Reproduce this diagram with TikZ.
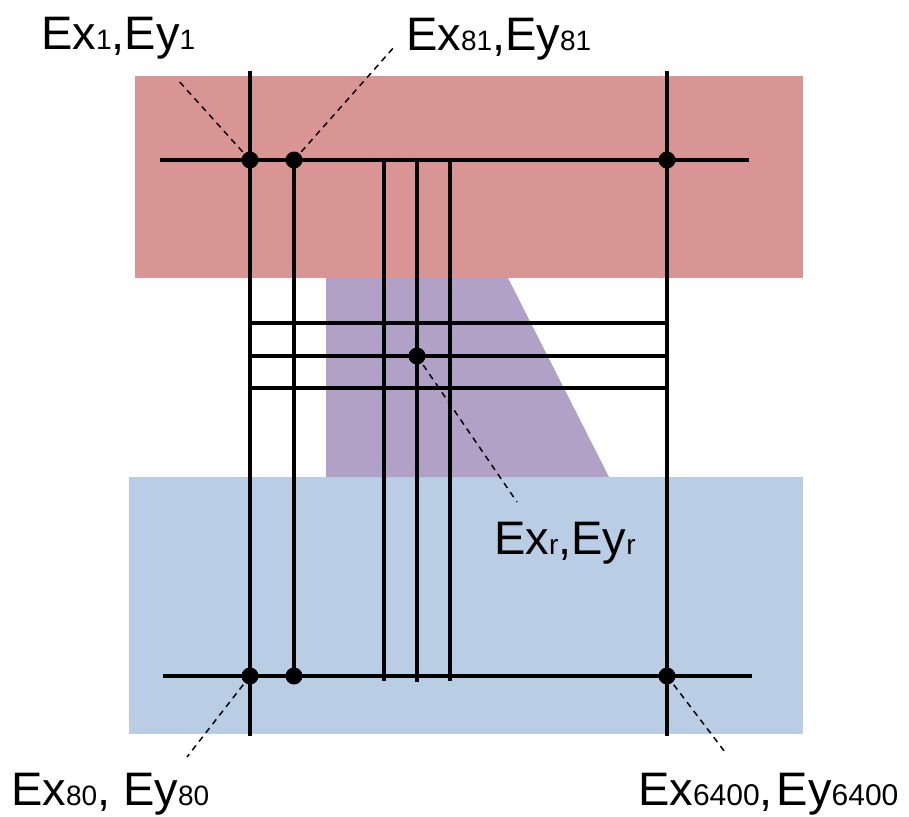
\documentclass[tikz,border=0pt]{standalone}
\usepackage{fontspec}
\setmainfont{Liberation Sans}
\definecolor{redband}{HTML}{D99594}
\definecolor{blueband}{HTML}{B9CDE5}
\definecolor{purpband}{HTML}{B2A1C7}
\newcommand{\bigtx}{\fontsize{47}{47}\selectfont}
\newcommand{\subtx}[1]{{\fontsize{28}{28}\selectfont #1}}
\newcommand{\subtxb}[1]{{\fontsize{30}{30}\selectfont #1}}
\begin{document}
\begin{tikzpicture}[x=1pt,y=-1pt,
  wire/.style={line width=3.8pt},
  dot/.style={circle,fill=black,inner sep=0pt,minimum size=17pt},
  leader/.style={line width=1.5pt,dash pattern=on 6pt off 5pt},
  lab/.style={anchor=base west,inner sep=0pt,font=\bigtx}]
\useasboundingbox (0,0) rectangle (909,816);
% bands
\fill[redband] (135,76) rectangle (803,278);
\fill[blueband] (129,477) rectangle (803,734);
\fill[purpband] (326,278) -- (508,278) -- (609,477) -- (326,477) -- cycle;
% coordinates
\coordinate (v1t) at (250,71);   \coordinate (v1b) at (250,736);
\coordinate (v6t) at (667,71);   \coordinate (v6b) at (667,736);
\coordinate (hTl) at (160,160);  \coordinate (hTr) at (749,160);
\coordinate (hBl) at (163,676);  \coordinate (hBr) at (752,676);
\coordinate (v3t) at (384,160);  \coordinate (v3b) at (384,681);
\coordinate (v4t) at (417,160);  \coordinate (v4b) at (417,682);
\coordinate (v5t) at (450,160);  \coordinate (v5b) at (450,681);
\coordinate (m1l) at (248,323);  \coordinate (m1r) at (667,323);
\coordinate (m2l) at (248,356);  \coordinate (m2r) at (667,356);
\coordinate (m3l) at (248,388);  \coordinate (m3r) at (667,388);
% wires
\draw[wire] (v1t) -- (v1b);
\draw[wire] (v6t) -- (v6b);
\draw[wire] (hTl) -- (hTr);
\draw[wire] (hBl) -- (hBr);
\draw[wire] (v3t) -- (v3b);
\draw[wire] (v4t) -- (v4b);
\draw[wire] (v5t) -- (v5b);
\draw[wire] (m1l) -- (m1r);
\draw[wire] (m2l) -- (m2r);
\draw[wire] (m3l) -- (m3r);
% dots
\node[dot] (d1) at (250,160) {};
\node[dot] (d81) at (294,160) {};
\node[dot] (dTR) at (667,160) {};
\node[dot] (dr) at (417,356) {};
\node[dot] (d80) at (250,676) {};
\node[dot] (d82) at (294,676) {};
\node[dot] (d6400) at (667,676) {};
\draw[wire] (d81.center) -- (d82.center);
% labels
\node[lab] (l1) at (41,49) {Ex\subtx{1},Ey\subtx{1}};
\node[lab] (l81) at (406,50) {Ex\subtx{81},Ey\subtx{81}};
\node[lab] (lr) at (494,554) {Ex\subtx{r},Ey\subtx{r}};
\node[lab] (l80) at (11,805) {Ex\subtx{80}, Ey\subtx{80}};
\node[lab] (l6400) at (638,805) {Ex\subtxb{6400},\hspace{4pt}Ey\subtxb{6400}};
% leaders
\coordinate (e1) at (177,79);
\coordinate (e81) at (395,46);
\coordinate (er) at (517,502);
\coordinate (e80) at (187,757);
\coordinate (e6400) at (725,752);
\draw[leader] (d1.center) -- (e1);
\draw[leader] (d81.center) -- (e81);
\draw[leader] (dr.center) -- (er);
\draw[leader] (d80.center) -- (e80);
\draw[leader] (d6400.center) -- (e6400);
\end{tikzpicture}
\end{document}
